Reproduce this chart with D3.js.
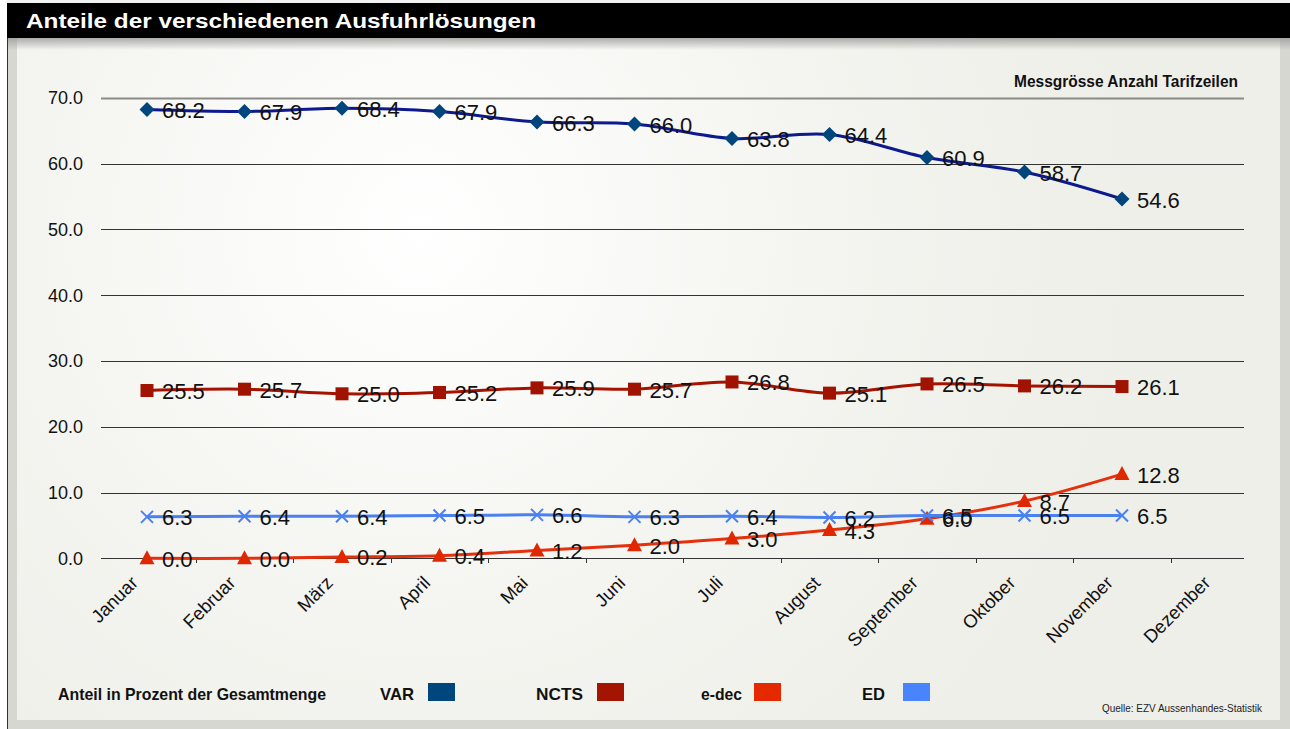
<!DOCTYPE html>
<html>
<head>
<meta charset="utf-8">
<script src="https://cdn.jsdelivr.net/npm/d3@7"></script>
<style>
  body { margin: 0; background: #fff; }
  svg { display: block; }
  .val { font-family: "Liberation Sans", Arial, sans-serif; font-size: 22px; fill: #111; }
  .ytick { font-family: "Liberation Sans", Arial, sans-serif; font-size: 18px; fill: #111; }
  .xtick { font-family: "Liberation Sans", Arial, sans-serif; font-size: 18.5px; fill: #111; }
  .cond { font-family: "Liberation Sans Narrow", "Liberation Sans", sans-serif; font-weight: bold; fill: #111; }
</style>
</head>
<body>
<svg id="chart" width="1290" height="729"></svg>
<script>
// months on the x axis
var months = ["Januar", "Februar", "März", "April", "Mai", "Juni", "Juli",
              "August", "September", "Oktober", "November", "Dezember"];
var yTicks = [0, 10, 20, 30, 40, 50, 60, 70];

// shares in percent, Jan - Nov
var varValues  = [68.2, 67.9, 68.4, 67.9, 66.3, 66.0, 63.8, 64.4, 60.9, 58.7, 54.6];
var nctsValues = [25.5, 25.7, 25.0, 25.2, 25.9, 25.7, 26.8, 25.1, 26.5, 26.2, 26.1];
var edecValues = [0.0, 0.0, 0.2, 0.4, 1.2, 2.0, 3.0, 4.3, 6.0, 8.7, 12.8];
var edValues   = [6.3, 6.4, 6.4, 6.5, 6.6, 6.3, 6.4, 6.2, 6.5, 6.5, 6.5];

var seriesNames = ["VAR", "NCTS", "e-dec", "ED"];

var series = [
  { name: "VAR",   values: varValues,  line: "#0d1a8e", mark: "#00457c", sym: "diamond" },
  { name: "NCTS",  values: nctsValues, line: "#a51300", mark: "#a01300", sym: "square" },
  { name: "e-dec", values: edecValues, line: "#e4300c", mark: "#e02800", sym: "triangle" },
  { name: "ED",    values: edValues,   line: "#4a80f0", mark: "#4a80f0", sym: "cross" }
];
var swatch = { "VAR": "#00457c", "NCTS": "#a31500", "e-dec": "#e42800", "ED": "#4a84fc" };

var svg = d3.select("#chart");
var defs = svg.append("defs");

// frame and background
var rg = defs.append("radialGradient").attr("id", "bg")
  .attr("gradientUnits", "userSpaceOnUse")
  .attr("cx", 420).attr("cy", 230).attr("r", 720);
rg.append("stop").attr("offset", "0").attr("stop-color", "#ffffff");
rg.append("stop").attr("offset", "0.55").attr("stop-color", "#f4f4f0");
rg.append("stop").attr("offset", "1").attr("stop-color", "#efefe9");

var sh = defs.append("linearGradient").attr("id", "shadow")
  .attr("x1", 0).attr("y1", 0).attr("x2", 0).attr("y2", 1);
sh.append("stop").attr("offset", "0").attr("stop-color", "#9a9a96").attr("stop-opacity", 0.8);
sh.append("stop").attr("offset", "1").attr("stop-color", "#9a9a96").attr("stop-opacity", 0);

svg.append("rect").attr("x", 0).attr("y", 0).attr("width", 1290).attr("height", 729).attr("fill", "#d7d7d2");
svg.append("rect").attr("x", 0).attr("y", 0).attr("width", 1290).attr("height", 4).attr("fill", "#f2f2f2");
svg.append("rect").attr("x", 0).attr("y", 0).attr("width", 7).attr("height", 729).attr("fill", "#ffffff");
svg.append("line").attr("x1", 7.5).attr("x2", 7.5).attr("y1", 4).attr("y2", 729).attr("stroke", "#333").attr("stroke-width", 1);
svg.append("rect").attr("x", 17).attr("y", 38).attr("width", 1263).attr("height", 682).attr("fill", "url(#bg)");
svg.append("rect").attr("x", 8).attr("y", 38).attr("width", 1282).attr("height", 12).attr("fill", "url(#shadow)");
svg.append("rect").attr("x", 7).attr("y", 3).attr("width", 1283).attr("height", 35).attr("fill", "#000");

svg.append("text").attr("x", 26).attr("y", 28)
  .attr("textLength", 510).attr("lengthAdjust", "spacingAndGlyphs")
  .style("font-family", "'Liberation Sans', Arial, sans-serif")
  .style("font-weight", "bold").style("font-size", "21px").style("fill", "#fff")
  .text("Anteile der verschiedenen Ausfuhrlösungen");

// scales
var x = d3.scaleBand().domain(months).range([98.25, 1268.25]).padding(0);
var cx = function (i) { return x(months[i]) + x.bandwidth() / 2; };
var y = d3.scaleLinear().domain([0, 70]).range([558.3, 97.7]);

// gridlines
svg.append("g").selectAll("line").data(yTicks).join("line")
  .attr("x1", 101).attr("x2", 1244)
  .attr("y1", function (d) { return Math.round(y(d)) + 0.5; })
  .attr("y2", function (d) { return Math.round(y(d)) + 0.5; })
  .attr("stroke", function (d) { return d === 70 ? "#8a8a86" : "#333"; })
  .attr("stroke-width", function (d) { return d === 70 ? 2 : 1; });

svg.append("g").selectAll("text").data(yTicks).join("text")
  .attr("class", "ytick")
  .attr("x", 83).attr("y", function (d) { return y(d) + 6.5; })
  .attr("text-anchor", "end")
  .text(function (d) { return d3.format(".1f")(d); });

// x axis ticks at band boundaries
var boundaries = months.slice(1).map(function (m) { return x(m); });
svg.append("g").selectAll("line").data(boundaries).join("line")
  .attr("x1", function (d) { return Math.round(d) + 0.5; })
  .attr("x2", function (d) { return Math.round(d) + 0.5; })
  .attr("y1", Math.round(y(0))).attr("y2", Math.round(y(0)) + 5)
  .attr("stroke", "#333");

svg.append("g").selectAll("text").data(months).join("text")
  .attr("class", "xtick")
  .attr("text-anchor", "end")
  .attr("transform", function (d) {
    return "translate(" + (x(d) + x.bandwidth() / 2 - 8) + ",584) rotate(-45)";
  })
  .text(function (d) { return d; });

// lines
var line = d3.line()
  .x(function (d, i) { return cx(i); })
  .y(function (d) { return y(d); })
  .curve(d3.curveCatmullRom.alpha(0.5));

var symbols = {
  diamond: function (g, c) {
    g.append("path").attr("d", "M0,-7.5L7.5,0L0,7.5L-7.5,0Z").attr("fill", c);
  },
  square: function (g, c) {
    g.append("rect").attr("x", -6.5).attr("y", -6.5).attr("width", 13).attr("height", 13).attr("fill", c);
  },
  triangle: function (g, c) {
    g.append("path").attr("d", "M0,-8L7.5,6L-7.5,6Z").attr("fill", c);
  },
  cross: function (g, c) {
    g.append("path").attr("d", "M-6,-6L6,6M-6,6L6,-6").attr("stroke", c).attr("stroke-width", 2).attr("fill", "none");
  }
};

series.forEach(function (s) {
  var g = svg.append("g");
  g.append("path").datum(s.values)
    .attr("d", line).attr("fill", "none")
    .attr("stroke", s.line).attr("stroke-width", 3);
  s.values.forEach(function (v, i) {
    var m = g.append("g").attr("transform", "translate(" + cx(i) + "," + y(v) + ")");
    symbols[s.sym](m, s.mark);
  });
});

series.forEach(function (s) {
  svg.append("g").selectAll("text").data(s.values).join("text")
    .attr("class", "val")
    .attr("x", function (d, i) { return cx(i) + 15; })
    .attr("y", function (d) { return y(d) + 8.5; })
    .text(function (d) { return d3.format(".1f")(d); });
});

// header note
svg.append("text").attr("class", "cond")
  .attr("x", 1238).attr("y", 87).attr("text-anchor", "end")
  .attr("textLength", 224).attr("lengthAdjust", "spacingAndGlyphs")
  .style("font-size", "17px")
  .text("Messgrösse Anzahl Tarifzeilen");

// legend
svg.append("text").attr("class", "cond")
  .attr("x", 58).attr("y", 700)
  .attr("textLength", 268).attr("lengthAdjust", "spacingAndGlyphs")
  .style("font-size", "17px")
  .text("Anteil in Prozent der Gesamtmenge");

var legendX = [380, 536, 701, 862];
var legendW = [34, 47, 41, 23];
var swatchX = [428, 597, 754, 903];
seriesNames.forEach(function (n, i) {
  svg.append("text").attr("class", "cond")
    .attr("x", legendX[i]).attr("y", 700)
    .attr("textLength", legendW[i]).attr("lengthAdjust", "spacingAndGlyphs")
    .style("font-size", "17px")
    .text(n);
  svg.append("rect").attr("x", swatchX[i]).attr("y", 683)
    .attr("width", 27).attr("height", 18).attr("fill", swatch[n]);
});

svg.append("text")
  .attr("x", 1102).attr("y", 712)
  .attr("textLength", 160).attr("lengthAdjust", "spacingAndGlyphs")
  .style("font-family", "'Liberation Sans Narrow', 'Liberation Sans', sans-serif")
  .style("font-size", "11px").style("fill", "#222")
  .text("Quelle: EZV Aussenhandes-Statistik");
</script>
</body>
</html>
